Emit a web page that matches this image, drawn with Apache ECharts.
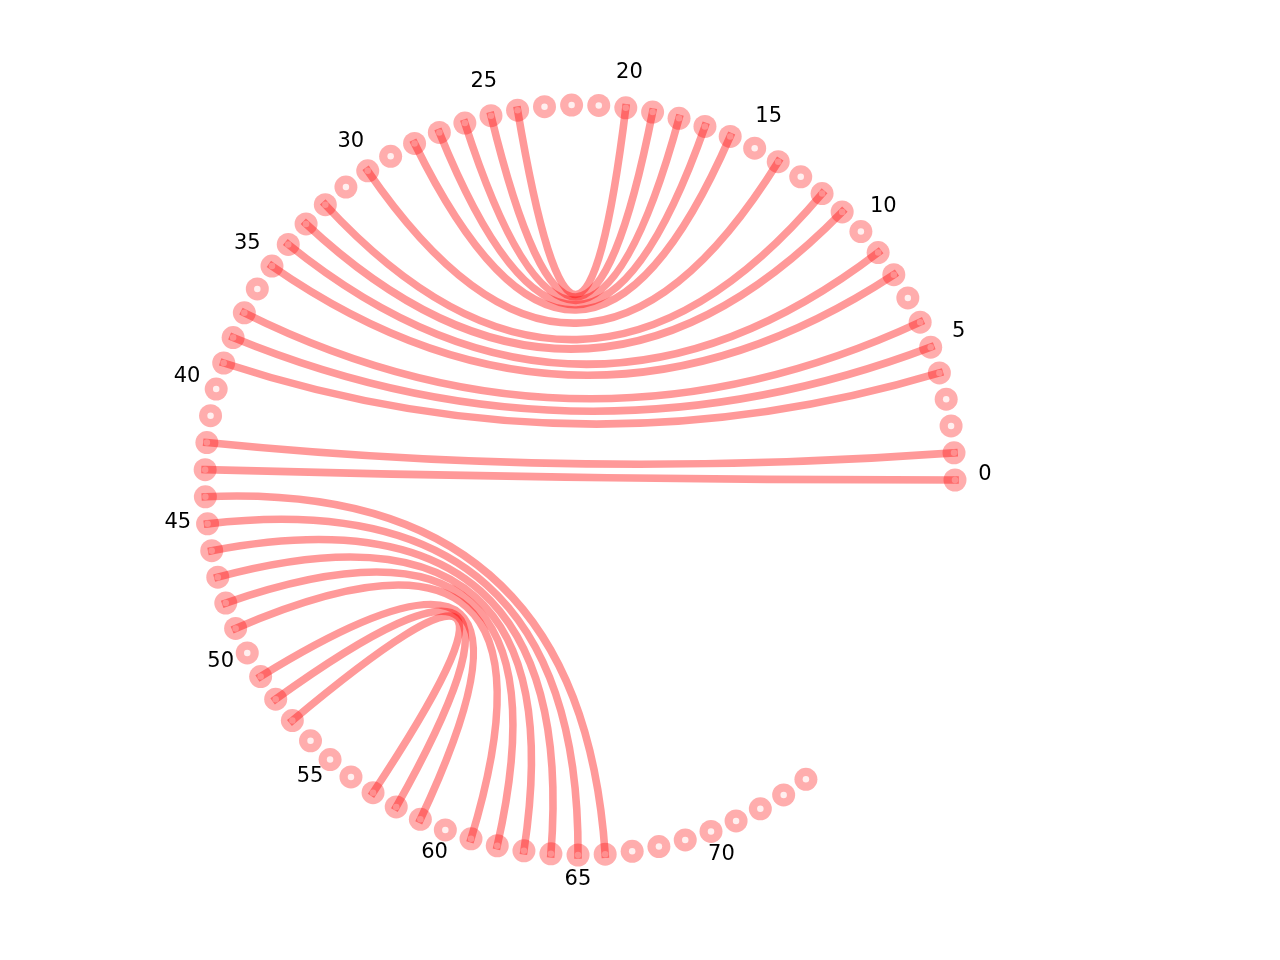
<!DOCTYPE html>
<html>
<head>
<meta charset="utf-8">
<script src="https://cdn.jsdelivr.net/npm/echarts@6/dist/echarts.min.js"></script>
<style>
html,body{margin:0;padding:0;background:#fff;}
#chart{width:1280px;height:960px;}
</style>
</head>
<body>
<div id="chart"></div>
<script>
// ---- data ----
const nodeCount = 75;                 // positions 0..74 around the circle
const degreesPerNode = 269.7 / 65;    // node 65 sits at the bottom
const pairFrom = [0, 1, 4, 5, 6, 8, 9, 11, 12, 14, 16, 17, 18, 19, 20, 44, 45, 46, 47, 48, 49, 51, 52, 53];
const pairTo   = [43, 42, 39, 38, 37, 35, 34, 33, 32, 30, 28, 27, 26, 25, 24, 66, 65, 64, 63, 62, 61, 59, 58, 57];
const tickLabels = [0, 5, 10, 15, 20, 25, 30, 35, 40, 45, 50, 55, 60, 65, 70];

// ---- derived ----
const nodeIds = Array.from({length: nodeCount}, (_, i) => i);
const ang = i => i * degreesPerNode;
const nodeData = nodeIds.map(i => [1, ang(i)]);
const edgeData = pairFrom.map((a, k) => [a, pairTo[k]]);
const labelData = tickLabels.map(v => [v, v]);

const RED = 'rgba(255,0,0,0.4)';
const LABEL_R = 1.08;

const chart = echarts.init(document.getElementById('chart'), null, {renderer: 'canvas'});
chart.setOption({
  backgroundColor: '#ffffff',
  animation: false,
  polar: {center: [580, 480], radius: 405},
  angleAxis: {type: 'value', min: 0, max: 360, startAngle: 0, clockwise: false, show: false},
  radiusAxis: {type: 'value', min: 0, max: LABEL_R, show: false},
  series: [
    {
      type: 'scatter', coordinateSystem: 'polar', silent: true,
      symbol: 'circle', symbolSize: 23,
      itemStyle: {color: RED},
      data: nodeData, z: 2
    },
    {
      type: 'scatter', coordinateSystem: 'polar', silent: true,
      symbol: 'circle', symbolSize: 6.5,
      itemStyle: {color: '#ffffff'},
      data: nodeData, z: 3
    },
    {
      type: 'custom', coordinateSystem: 'polar', silent: true, z: 4,
      data: edgeData,
      renderItem: function (params, api) {
        const a = api.value(0), b = api.value(1);
        const p0 = api.coord([1, ang(a)]);
        const p1 = api.coord([1, ang(b)]);
        const c = api.coord([0, 0]);
        return {
          type: 'bezierCurve',
          shape: {x1: p0[0], y1: p0[1], x2: p1[0], y2: p1[1], cpx1: c[0], cpy1: c[1]},
          style: {stroke: RED, fill: null, lineWidth: 7.6, lineCap: 'square'}
        };
      }
    },
    {
      type: 'custom', coordinateSystem: 'polar', silent: true, z: 5,
      data: labelData,
      renderItem: function (params, api) {
        const v = api.value(0);
        const p = api.coord([LABEL_R, ang(v)]);
        return {
          type: 'text',
          x: p[0], y: p[1] - 5,
          style: {
            text: String(v), fill: '#000000',
            fontFamily: 'DejaVu Sans', fontSize: 21,
            align: 'center', verticalAlign: 'middle'
          }
        };
      }
    }
  ]
});
</script>
</body>
</html>
